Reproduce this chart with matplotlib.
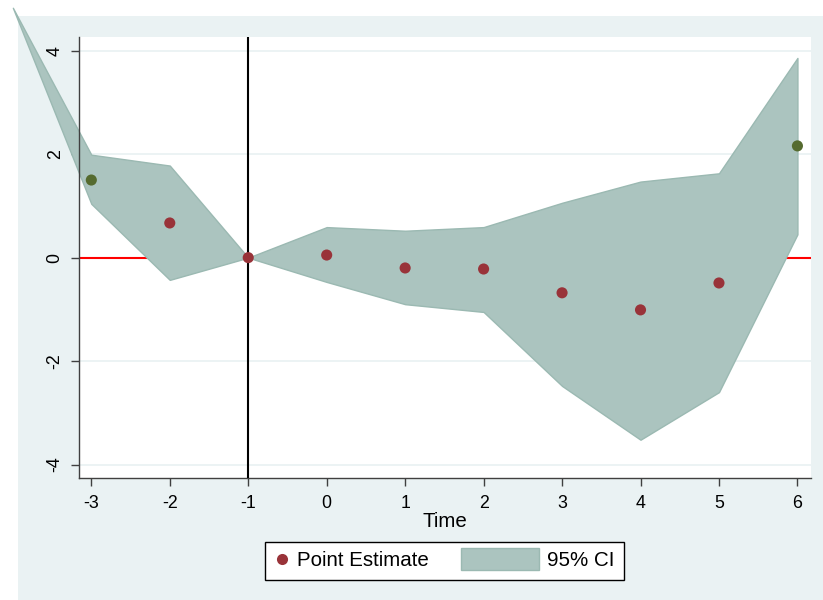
import matplotlib
matplotlib.use("Agg")
import matplotlib.pyplot as plt
from matplotlib.lines import Line2D
from matplotlib.patches import Patch, Rectangle
from matplotlib.legend_handler import HandlerPatch

plt.rcParams["font.family"] = ["Liberation Sans", "DejaVu Sans"]
plt.rcParams["axes.unicode_minus"] = False

# --------------------------------------------------------
# Données
# --------------------------------------------------------
time = [-3, -2, -1, 0, 1, 2, 3, 4, 5, 6]
estimate = [1.50, 0.67, 0.0, 0.05, -0.20, -0.22, -0.68, -1.01, -0.49, 2.16]
dot_colors = ["#556b2f", "#993339", "#993339", "#993339", "#993339",
              "#993339", "#993339", "#993339", "#993339", "#556b2f"]

ci_time = [-4, -3, -2, -1, 0, 1, 2, 3, 4, 5, 6]
ci_upper = [4.83, 1.99, 1.78, 0.0, 0.59, 0.52, 0.59, 1.06, 1.47, 1.63, 3.86]
ci_lower = [4.83, 1.04, -0.43, 0.0, -0.47, -0.90, -1.05, -2.48, -3.52, -2.60, 0.45]

yticks = [-4, -2, 0, 2, 4]
xticks = [-3, -2, -1, 0, 1, 2, 3, 4, 5, 6]

BG = "#eaf2f3"
FILL = "#abc4bf"
EDGE = "#9bb9b2"

# --------------------------------------------------------
# Figure
# --------------------------------------------------------
fig = plt.figure(figsize=(8.23, 6.0), dpi=100)
fig.patch.set_facecolor("white")
fig.patches.append(Rectangle((18 / 823, 0), 1 - 18 / 823, 1 - 16 / 600,
                             transform=fig.transFigure, facecolor=BG,
                             edgecolor="none", zorder=-10))

ax = fig.add_axes([79 / 823, 1 - 478 / 600, (811 - 79) / 823, (478 - 37) / 600])
ax.set_facecolor("white")

for y in yticks:
    ax.axhline(y, color=BG, lw=1.3, zorder=0.5)

ax.axhline(0, color="#ff0000", lw=1.5, zorder=1)

band = ax.fill_between(ci_time, ci_lower, ci_upper, facecolor=FILL,
                       edgecolor=EDGE, lw=1.0, zorder=2)
band.set_clip_on(False)

ax.axvline(-1, color="black", lw=1.5, zorder=3)

ax.scatter(time, estimate, s=64, c=dot_colors, zorder=4, linewidths=0)

ax.set_xlim(-3.157, 6.173)
ax.set_ylim(-4.26, 4.265)
ax.set_xticks(xticks)
ax.set_yticks(yticks)
ax.set_yticklabels([str(v) for v in yticks], rotation=90, va="center")

for side in ["top", "right"]:
    ax.spines[side].set_visible(False)
for side in ["left", "bottom"]:
    ax.spines[side].set_color("#404040")
    ax.spines[side].set_linewidth(1.0)

ax.tick_params(axis="x", length=5.5, width=1.0, color="#404040",
               labelsize=12.8, pad=6.5)
ax.tick_params(axis="y", length=5.5, width=1.0, color="#404040",
               labelsize=12.8, pad=5.5)
ax.set_xlabel("Time", fontsize=14.8, labelpad=0.3)


# --------------------------------------------------------
# Légende
# --------------------------------------------------------
def wide_patch(legend, orig_handle, xdescent, ydescent, width, height, fontsize):
    w = 3.8 * fontsize
    h = 1.07 * fontsize
    return Rectangle((-xdescent + width - 0.1 * fontsize - w,
                      -ydescent + height / 2 - h / 2), w, h)


handles = [
    Line2D([], [], marker="o", ls="none", markersize=8,
           markerfacecolor="#993339", markeredgewidth=0),
    Patch(facecolor=FILL, edgecolor=EDGE, lw=1.0),
]
leg = fig.legend(handles, ["Point Estimate", "95% CI"], ncol=2,
                 loc="center", bbox_to_anchor=(444.5 / 823, 1 - 561 / 600),
                 fontsize=14.8, frameon=True, fancybox=False,
                 edgecolor="black", facecolor="white", framealpha=1,
                 handlelength=0.78, handletextpad=0.3, columnspacing=4.7,
                 borderpad=0.48,
                 handler_map={Patch: HandlerPatch(patch_func=wide_patch)})
leg.get_frame().set_linewidth(1.0)

fig.savefig("out.png", dpi=100)
